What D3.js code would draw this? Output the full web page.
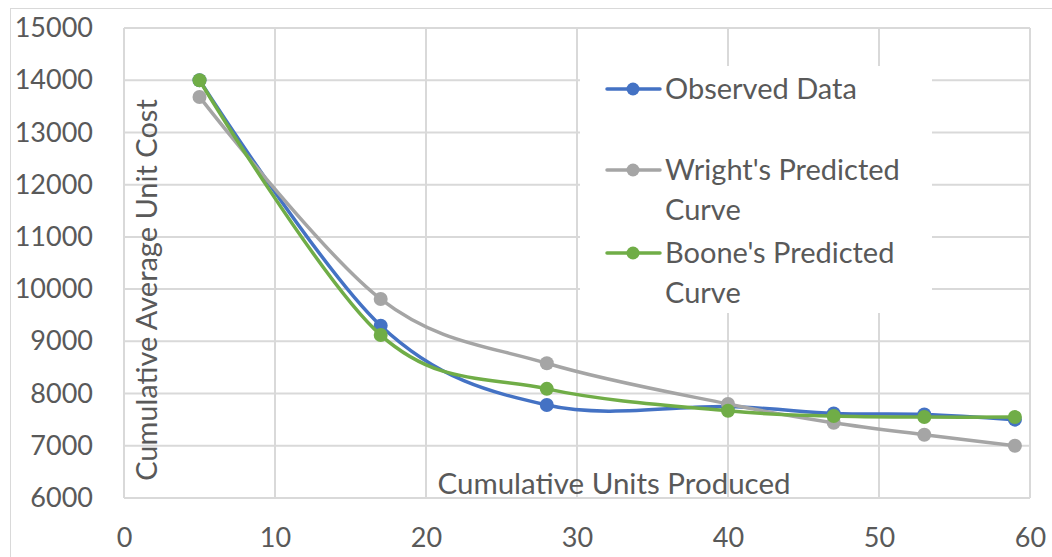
<!DOCTYPE html>
<html>
<head>
<meta charset="utf-8">
<script src="https://cdn.jsdelivr.net/npm/d3@7"></script>
<style>
  body { margin: 0; background: #fff; }
  svg { font-family: Lato, "Open Sans", sans-serif; }
</style>
</head>
<body>
<svg id="chart" width="1052" height="557"></svg>
<script>
// data
const units = [5, 17, 28, 40, 47, 53, 59];
const observed = [14000, 9300, 7780, 7750, 7620, 7600, 7500];
const wright = [13680, 9810, 8580, 7800, 7440, 7210, 7000];
const boone = [14000, 9120, 8090, 7670, 7570, 7550, 7550];

const seriesNames = ['Observed Data', "Wright's Predicted Curve", "Boone's Predicted Curve"];
const seriesColors = ['#4472C4', '#A5A5A5', '#70AD47'];
const xTicks = [0, 10, 20, 30, 40, 50, 60];
const yTicks = [6000, 7000, 8000, 9000, 10000, 11000, 12000, 13000, 14000, 15000];

const series = [observed, wright, boone].map((vals, i) => ({
  name: seriesNames[i],
  color: seriesColors[i],
  points: units.map((u, j) => ({x: u, y: vals[j]}))
}));

const svg = d3.select('#chart');
const textColor = '#595959';
const gridColor = '#d9d9d9';

const dims = {left: 124, right: 1030, top: 28, bottom: 498};

// chart area border
svg.append('rect')
  .attr('x', 10.5).attr('y', 8.5)
  .attr('width', 1100).attr('height', 600)
  .attr('fill', 'none')
  .attr('stroke', gridColor)
  .attr('stroke-width', 1);

const x = d3.scaleLinear().domain([0, 60]).range([dims.left, dims.right]);
const y = d3.scaleLinear().domain([6000, 15000]).range([dims.bottom, dims.top]);

// gridlines
const grid = svg.append('g');
grid.selectAll('.hgrid').data(yTicks).enter().append('line')
  .attr('x1', dims.left).attr('x2', dims.right)
  .attr('y1', d => y(d)).attr('y2', d => y(d))
  .attr('stroke', gridColor).attr('stroke-width', 2);
grid.selectAll('.vgrid').data(xTicks).enter().append('line')
  .attr('x1', d => x(d)).attr('x2', d => x(d))
  .attr('y1', dims.top).attr('y2', dims.bottom)
  .attr('stroke', gridColor).attr('stroke-width', 2);

// axes (tick labels only)
const xAxis = svg.append('g')
  .attr('transform', `translate(0, ${dims.bottom})`)
  .call(d3.axisBottom(x).tickValues(xTicks).tickSize(0).tickPadding(30));
const yAxis = svg.append('g')
  .attr('transform', `translate(${dims.left}, 0)`)
  .call(d3.axisLeft(y).tickValues(yTicks).tickSize(0).tickPadding(31).tickFormat(d3.format('d')));
[xAxis, yAxis].forEach(a => {
  a.select('.domain').remove();
  a.selectAll('text')
    .attr('fill', textColor)
    .style('font-family', 'Lato, sans-serif')
    .style('font-size', '27px');
});

// axis titles (sit inside the plot like the original)
svg.append('text')
  .attr('x', 614).attr('y', 494)
  .attr('text-anchor', 'middle')
  .attr('fill', textColor)
  .style('font-size', '29.5px')
  .text('Cumulative Units Produced');

svg.append('text')
  .attr('transform', 'translate(157, 290) rotate(-90)')
  .attr('text-anchor', 'middle')
  .attr('fill', textColor)
  .style('font-size', '29px')
  .text('Cumulative Average Unit Cost');

// series
const line = d3.line()
  .x(d => x(d.x))
  .y(d => y(d.y))
  .curve(d3.curveCardinal.tension(0));

series.forEach(s => {
  const g = svg.append('g');
  g.append('path')
    .attr('d', line(s.points))
    .attr('fill', 'none')
    .attr('stroke', s.color)
    .attr('stroke-width', 3.5)
    .attr('stroke-linecap', 'round');
  g.selectAll('circle').data(s.points).enter().append('circle')
    .attr('cx', d => x(d.x))
    .attr('cy', d => y(d.y))
    .attr('r', 7)
    .attr('fill', s.color);
});

// legend
const legend = svg.append('g');
legend.append('rect')
  .attr('x', 580).attr('y', 66)
  .attr('width', 352).attr('height', 247)
  .attr('fill', '#fff');

const legendRows = [
  {lines: ['Observed Data'], y: 89},
  {lines: ["Wright's Predicted", 'Curve'], y: 170},
  {lines: ["Boone's Predicted", 'Curve'], y: 253}
];

legendRows.forEach((row, i) => {
  const item = legend.append('g');
  item.append('line')
    .attr('x1', 607).attr('x2', 660)
    .attr('y1', row.y).attr('y2', row.y)
    .attr('stroke', seriesColors[i])
    .attr('stroke-width', 3.5)
    .attr('stroke-linecap', 'round');
  item.append('circle')
    .attr('cx', 633).attr('cy', row.y).attr('r', 6.5)
    .attr('fill', seriesColors[i]);
  item.selectAll('text').data(row.lines).enter().append('text')
    .attr('x', 665)
    .attr('y', (d, k) => row.y + 10 + k * 40)
    .attr('fill', textColor)
    .style('font-size', '29px')
    .text(d => d);
});
</script>
</body>
</html>
